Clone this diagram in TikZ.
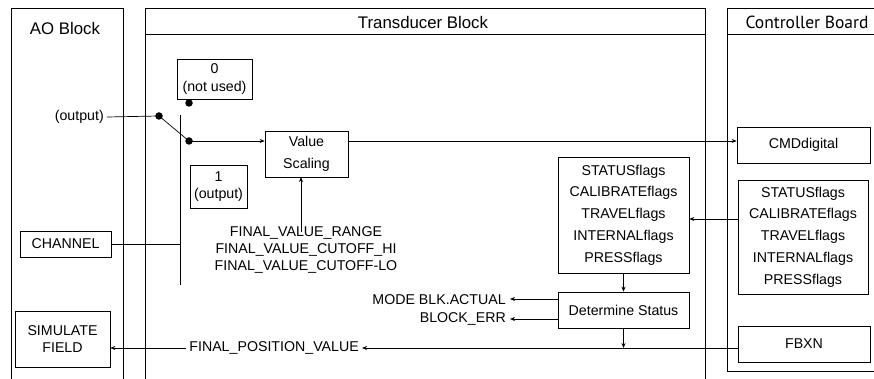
\documentclass[tikz,border=0pt]{standalone}
\usepackage{fontspec}
\setmainfont{Liberation Sans}
\newfontfamily\cbfont{PT Sans}
\usetikzlibrary{arrows.meta}
\begin{document}
\begin{tikzpicture}[x=1pt,y=-1pt,
  panel/.style={line width=0.9pt},
  box/.style={draw,line width=0.7pt,inner sep=0pt,align=center,font=\fontsize{14.2}{17}\selectfont},
  lbl/.style={inner sep=0pt,align=center,font=\fontsize{14.2}{17}\selectfont},
  ttl/.style={inner sep=0pt,font=\fontsize{16.8}{20}\selectfont},
  conn/.style={line width=0.7pt},
  arr/.style={line width=0.7pt,-{Stealth[length=5pt,width=4pt]}},
  dotn/.style={circle,fill=black,inner sep=0pt,minimum size=7.5pt}
]
\useasboundingbox (0,0) rectangle (874,379);
\fill[white] (0,0) rectangle (874,379);
% panels
\draw[panel] (11,385) -- (11,8) -- (123,8) -- (123,385);
\draw[panel] (145,385) -- (145,8) -- (705,8) -- (705,385);
\draw[panel] (145,34) -- (705,34);
\draw[panel] (880,371) -- (727,371) -- (727,8) -- (880,8);
\draw[panel] (727,34) -- (880,34);
% titles
\node[ttl] (aotitle) at (65,28) {AO Block};
\node[ttl] (tbtitle) at (423,22) {Transducer Block};
\node[inner sep=0pt,font=\cbfont\fontsize{17.5}{20}\selectfont] (cbtitle) at (807,22) {Controller Board};
% AO block
\node[box,minimum width=91pt,minimum height=26pt] (channel) at (65.5,244) {CHANNEL};
\node[box,minimum width=95pt,minimum height=56pt] (simulate) at (62.5,339) {SIMULATE\\FIELD};
\node[lbl,anchor=east] (outtext) at (104,117) {(output)};
% switch
\node[box,minimum width=75pt,minimum height=40pt,font=\fontsize{14.2}{18}\selectfont] (notused) at (214.5,79) {0\\(not used)};
\node[box,minimum width=57pt,minimum height=43pt] (one) at (218.5,186.5) {1\\(output)};
\node[dotn] (dot0) at (189,103) {};
\node[dotn] (dotA) at (159,116) {};
\node[dotn] (dotB) at (189,141) {};
\coordinate (bartop) at (180,115);
\coordinate (barbot) at (180,285);
\draw[conn] (bartop) -- (barbot);
\draw[conn] ([xshift=3pt]outtext.east) -- (dotA.center);
\draw[conn] (dotA.center) -- (dotB.center);
\draw[conn] (channel.east) -- (channel.east -| bartop);
% value scaling
\node[box,minimum width=83pt,minimum height=46pt,font=\fontsize{14.2}{22}\selectfont] (vs) at (306.5,154) {Value\\Scaling};
\draw[arr] (dotB.center) -- (dotB -| vs.west);
\node[lbl] (fvr) at (306,250) {FINAL\_VALUE\_RANGE\\FINAL\_VALUE\_CUTOFF\_HI\\FINAL\_VALUE\_CUTOFF-LO};
\coordinate (vsin) at (301,177);
\draw[arr] (vsin |- fvr.north) ++(0,-6pt) -- (vsin);
% controller board
\node[box,minimum width=133pt,minimum height=36pt] (cmd) at (803.5,145) {CMDdigital};
\draw[arr] (dotB -| vs.east) -- (dotB -| cmd.west);
\node[box,minimum width=131pt,minimum height=116pt,font=\fontsize{14.2}{21.7}\selectfont] (tflags) at (623.5,215) {STATUSflags\\CALIBRATEflags\\TRAVELflags\\INTERNALflags\\PRESSflags};
\node[box,minimum width=130pt,minimum height=114pt,font=\fontsize{14.2}{21.7}\selectfont] (cflags) at (803,237) {STATUSflags\\CALIBRATEflags\\TRAVELflags\\INTERNALflags\\PRESSflags};
\coordinate (flagy) at (0,219);
\draw[arr] (cflags.west |- flagy) -- (tflags.east |- flagy);
\node[box,minimum width=131pt,minimum height=36pt] (det) at (623.5,310) {Determine Status};
\draw[arr] (tflags.south) -- (det.north);
\node[lbl,anchor=east] (mode) at (506,300) {MODE BLK.ACTUAL};
\node[lbl,anchor=east] (blkerr) at (506,319) {BLOCK\_ERR};
\draw[arr] (det.west |- 0,299) -- ([xshift=4pt]mode.east |- 0,299);
\draw[arr] (det.west |- 0,319) -- ([xshift=4pt]blkerr.east |- 0,319);
\node[box,minimum width=132pt,minimum height=36pt] (fbxn) at (804,344) {FBXN};
\node[lbl,anchor=east] (fpv) at (359,348) {FINAL\_POSITION\_VALUE};
\coordinate (fpy) at (0,348);
\draw[arr] (det.south) -- (det.south |- fpy);
\draw[arr] (fbxn.west |- fpy) -- ([xshift=3pt]fpv.east |- fpy);
\draw[arr] ([xshift=-3pt]fpv.west |- fpy) -- (simulate.east |- fpy);
\end{tikzpicture}
\end{document}
